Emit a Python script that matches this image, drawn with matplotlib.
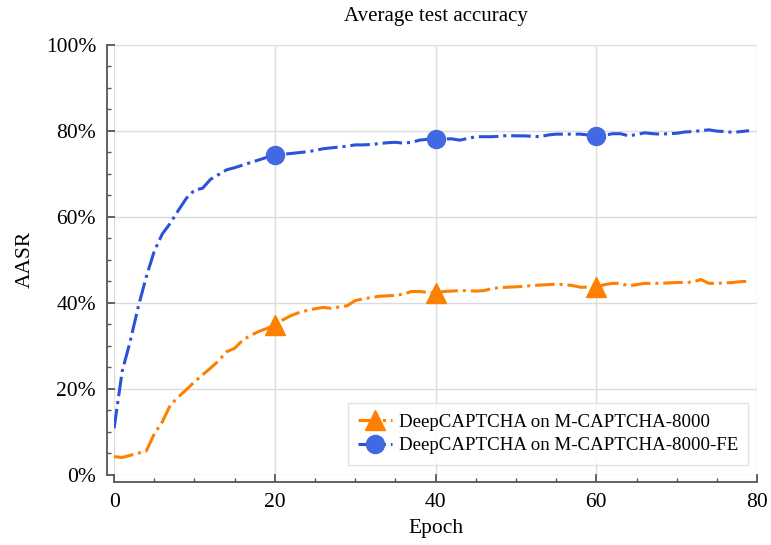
import matplotlib
matplotlib.use("Agg")
import matplotlib.pyplot as plt
from matplotlib.ticker import MultipleLocator, PercentFormatter

plt.rcParams['font.family'] = ['Liberation Serif', 'DejaVu Serif']

epochs = list(range(80))

# DeepCAPTCHA on M-CAPTCHA-8000 (percent)
acc_base = [4.2, 4.0, 4.5, 5.0, 5.5, 9.5, 12.3, 16.2, 18.1, 19.8,
            21.6, 23.2, 24.8, 26.5, 28.6, 29.4, 31.3, 32.4, 33.3, 34.0,
            34.8, 36.0, 37.0, 37.7, 38.2, 38.6, 38.9, 38.7, 39.0, 39.3,
            40.5, 40.9, 41.2, 41.5, 41.6, 41.7, 42.0, 42.6, 42.6, 42.4,
            42.2, 42.6, 42.7, 42.8, 42.8, 42.7, 42.8, 43.3, 43.5, 43.6,
            43.7, 43.8, 44.0, 44.1, 44.2, 44.3, 44.2, 44.0, 43.6, 43.6,
            43.6, 44.2, 44.5, 44.5, 43.9, 44.2, 44.5, 44.5, 44.5, 44.6,
            44.7, 44.7, 44.8, 45.4, 44.5, 44.5, 44.6, 44.7, 44.9, 45.0]

# DeepCAPTCHA on M-CAPTCHA-8000-FE (percent)
acc_fe = [10.8, 24.0, 31.0, 39.0, 46.0, 52.0, 56.0, 58.5, 61.5, 64.3,
          66.2, 66.6, 68.7, 69.8, 70.9, 71.4, 72.0, 72.6, 73.2, 73.8,
          74.3, 74.5, 74.7, 74.9, 75.1, 75.4, 75.8, 76.0, 76.2, 76.4,
          76.7, 76.7, 76.8, 77.0, 77.2, 77.3, 77.1, 77.3, 77.8, 78.0,
          78.0, 78.1, 78.1, 77.8, 78.2, 78.6, 78.6, 78.6, 78.7, 78.9,
          78.8, 78.8, 78.7, 78.6, 79.0, 79.2, 79.2, 79.2, 79.2, 79.0,
          78.8, 78.9, 79.3, 79.3, 78.8, 79.1, 79.5, 79.3, 79.2, 79.3,
          79.4, 79.7, 79.8, 80.0, 80.2, 79.9, 79.8, 79.6, 79.8, 80.0]

marked = [20, 40, 60]

fig = plt.figure(figsize=(7.71, 5.45), dpi=100)
ax = fig.add_axes([0.148, 0.129, 0.834, 0.789])

ax.plot(epochs, acc_base, linestyle='-.', color='#ff8000', linewidth=2.2,
        marker='^', markersize=15, markevery=marked, markerfacecolor='#ff8000',
        markeredgecolor='#ff8000', label='DeepCAPTCHA on M-CAPTCHA-8000')
ax.plot(epochs, acc_fe, linestyle='-.', color='#2a52da', linewidth=2.2,
        marker='o', markersize=13, markevery=marked, markerfacecolor='#4169e1',
        markeredgecolor='#4169e1', label='DeepCAPTCHA on M-CAPTCHA-8000-FE')

ax.set_xlim(0, 80)
ax.set_ylim(0, 100)
ax.xaxis.set_major_locator(MultipleLocator(20))
ax.xaxis.set_minor_locator(MultipleLocator(5))
ax.yaxis.set_major_locator(MultipleLocator(20))
ax.yaxis.set_minor_locator(MultipleLocator(5))
ax.yaxis.set_major_formatter(PercentFormatter(decimals=0))

ax.grid(True, which='major', color='#dcdcdc', linewidth=1)
ax.set_axisbelow(True)
for side in ['top', 'right']:
    ax.spines[side].set_visible(False)
for side in ['left', 'bottom']:
    ax.spines[side].set_position(('outward', 5))
    ax.spines[side].set_color('#555555')
    ax.spines[side].set_linewidth(1.3)

ax.tick_params(which='major', direction='in', length=5.5, width=1.3,
               color='#555555', labelsize=15.5, pad=8)
ax.tick_params(which='minor', direction='in', length=3, width=1,
               color='#555555')

ax.set_title('Average test accuracy', fontsize=15, pad=17)
ax.set_xlabel('Epoch', fontsize=15.5, labelpad=5)
ax.set_ylabel('AASR', fontsize=15.5, labelpad=8)

ax.legend(loc='lower right', fontsize=13.6, frameon=True, edgecolor='#dddddd',
          fancybox=False, handlelength=1.8, handletextpad=0.35, borderpad=0.55,
          labelspacing=0.35, borderaxespad=0.3, bbox_to_anchor=(0.995, 0.01))

fig.savefig('out.png', dpi=100)
